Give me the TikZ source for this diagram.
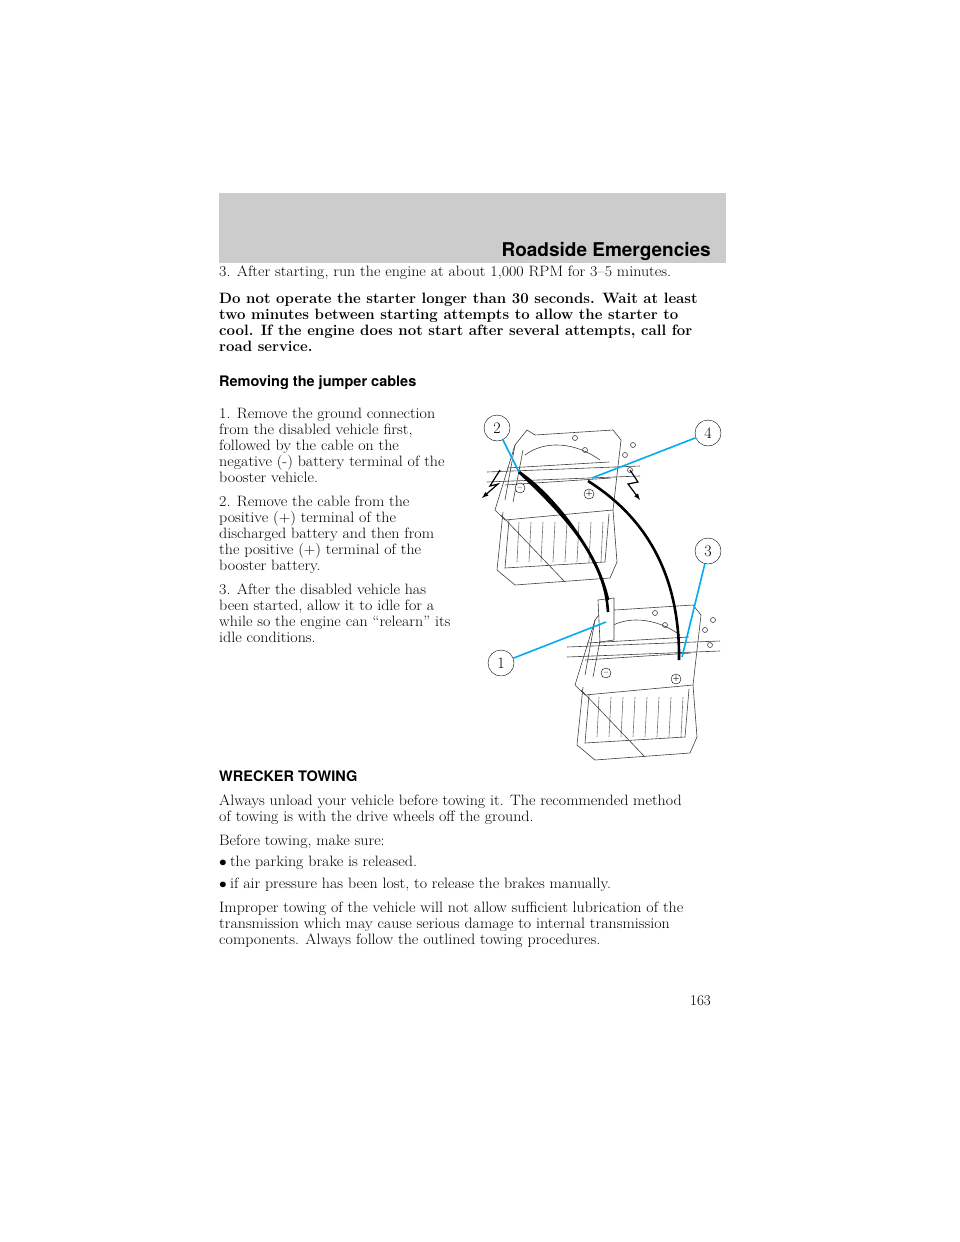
\documentclass[tikz,border=0pt]{standalone}
\usepackage{fontspec}
\setsansfont{TeX Gyre Heros}
\usetikzlibrary{arrows}
\tikzset{
  txt/.style = {anchor=base west, inner sep=0pt, font=\fontsize{15}{16}\selectfont},
  txtb/.style = {txt, font=\fontsize{15}{16}\selectfont\bfseries},
  head/.style = {anchor=base west, inner sep=0pt, font=\fontsize{14.5}{16}\selectfont\sffamily\bfseries},
  callout/.style = {circle, draw=black, thin, fill=white, minimum size=26pt, inner sep=0pt,
    font=\fontsize{16}{18}\selectfont},% numbered callout
  leader/.style = {cyan, line width=1.6pt},
  cable/.style = {line width=2.6pt, black},
  part/.style = {draw=black!75, line width=0.6pt},
  term/.style = {circle, draw=black, fill=white, minimum size=10pt, inner sep=0pt, font=\scriptsize\bfseries}
}
\newcommand{\wl}[1]{\scalebox{1.065}[1]{#1}}% wider body line
\newcommand{\batt}[2]{% battery drawing at offset
\begin{scope}[shift={(#1,#2)}]
  \draw[part, fill=white] (10,-45) -- (22,-60) -- (30,-55) -- (108,-60) -- (116,-50) -- (108,20) -- (0,30) -- (-10,20) -- cycle;
  \draw[part] (0,10) -- (10,-45) (8,12) -- (18,-40);
  \draw[part] (-2,22) -- (-8,80) -- (10,95) -- (105,88) -- (112,72) -- (108,20);
  \draw[part] (4,30) -- (0,78) -- (100,72) -- (104,24);
  \foreach \i in {14,26,...,98} \draw[part, black!55] (\i,32) -- (\i-2,72);
  \draw[part] (2,-22) -- (104,-28) (0,-5) -- (106,-12);
  \draw[part] (20,-35) .. controls (40,-50) and (70,-48) .. (95,-30);
  \draw[part] (-4,25) -- (60,92);
  \draw[part] (-18,-18) -- (135,-24) (-18,-8) -- (135,-14);
  \foreach \p in {(70,-52),(80,-40),(120,-35),(125,-20),(128,-45)} \draw[part] \p circle (2.5pt);
\end{scope}}
\begin{document}
\begin{tikzpicture}[x=1pt,y=-1pt]
\useasboundingbox (0,0) rectangle (960,1242);
% header band
\fill[black!20] (219,193) rectangle (726,263);
\node[anchor=base east, inner sep=0pt, font=\fontsize{19}{22}\selectfont\sffamily\bfseries] (hdr) at (711,256) {Roadside Emergencies};
% body text
\node[txt] (l1) at (219,276) {\wl{3. After starting, run the engine at about 1,000 RPM for 3--5 minutes.}};
\node[txtb] (w1) at (219,303) {Do not operate the starter longer than 30 seconds. Wait at least};
\node[txtb] (w2) at (219,319) {two minutes between starting attempts to allow the starter to};
\node[txtb] (w3) at (219,335) {cool. If the engine does not start after several attempts, call for};
\node[txtb] (w4) at (219,351) {road service.};
\node[head] (h1) at (219,386) {Removing the jumper cables};
\node[txt] (a1) at (219,418) {\wl{1. Remove the ground connection}};
\node[txt] (a2) at (219,434) {\wl{from the disabled vehicle first,}};
\node[txt] (a3) at (219,450) {\wl{followed by the cable on the}};
\node[txt] (a4) at (219,466) {\wl{negative (-) battery terminal of the}};
\node[txt] (a5) at (219,482) {\wl{booster vehicle.}};
\node[txt] (b1) at (219,506) {\wl{2. Remove the cable from the}};
\node[txt] (b2) at (219,522) {\wl{positive (+) terminal of the}};
\node[txt] (b3) at (219,538) {\wl{discharged battery and then from}};
\node[txt] (b4) at (219,554) {\wl{the positive (+) terminal of the}};
\node[txt] (b5) at (219,570) {\wl{booster battery.}};
\node[txt] (c1) at (219,594) {\wl{3. After the disabled vehicle has}};
\node[txt] (c2) at (219,610) {\wl{been started, allow it to idle for a}};
\node[txt] (c3) at (219,626) {\wl{while so the engine can ``relearn'' its}};
\node[txt] (c4) at (219,642) {\wl{idle conditions.}};
\node[head] (h2) at (219,781) {WRECKER TOWING};
\node[txt] (d1) at (219,805) {\wl{Always unload your vehicle before towing it. The recommended method}};
\node[txt] (d2) at (219,821) {\wl{of towing is with the drive wheels off the ground.}};
\node[txt] (d3) at (219,845) {\wl{Before towing, make sure:}};
\node[txt] (e1) at (219,866) {\wl{$\bullet$\hspace{3pt}the parking brake is released.}};
\node[txt] (e2) at (219,888) {\wl{$\bullet$\hspace{3pt}if air pressure has been lost, to release the brakes manually.}};
\node[txt] (f1) at (219,912) {\wl{Improper towing of the vehicle will not allow sufficient lubrication of the}};
\node[txt] (f2) at (219,928) {\wl{transmission which may cause serious damage to internal transmission}};
\node[txt] (f3) at (219,944) {\wl{components. Always follow the outlined towing procedures.}};
\node[anchor=base east, inner sep=0pt, font=\fontsize{15}{16}\selectfont] (pg) at (711,1005) {163};
% illustration
\batt{505}{490}
\batt{585}{665}
\node[term] (un) at (520,488) {--};
\node[term] (up) at (589,494) {+};
\node[term] (ln) at (606,673) {--};
\node[term] (lp) at (676,679) {+};
\coordinate (ug) at (519,472);
\coordinate (upt) at (588,481);
\coordinate (gnd) at (608,612);
\coordinate (lpt) at (679,660);
\draw[part, fill=white] (598,600) -- (614,598) -- (614,640) -- (600,642) -- cycle;
\draw[cable] (ug) .. controls (570,520) and (605,560) .. (gnd);
\draw[cable] (ug) .. controls (560,500) and (600,560) .. (608,600);
\draw[cable] (upt) .. controls (650,520) and (680,580) .. (lpt);
\draw[line width=1.2pt, -latex] (630,470) -- (638,482) -- (628,484) -- (640,500);
\draw[line width=1.2pt, -latex] (500,470) -- (490,486) -- (498,484) -- (482,498);
% callouts
\node[callout] (n2) at (497,428) {2};
\node[callout] (n4) at (708,433) {4};
\node[callout] (n3) at (708,551) {3};
\node[callout] (n1) at (501,663) {1};
\draw[leader] (n2) -- (ug);
\draw[leader] (n4) -- (592,478);
\draw[leader] (n3) -- (682,657);
\draw[leader] (n1) -- (606,622);
\end{tikzpicture}
\end{document}
